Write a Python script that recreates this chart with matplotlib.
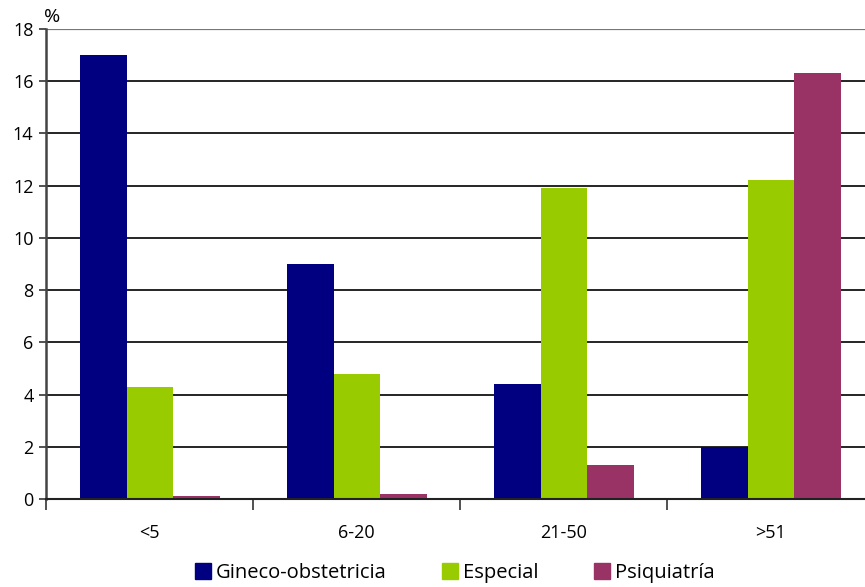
import matplotlib
matplotlib.use("Agg")
import matplotlib.pyplot as plt
import numpy as np
from matplotlib.patches import Patch

categories = ["<5", "6-20", "21-50", ">51"]
series_names = ["Gineco-obstetricia", "Especial", "Psiquiatría"]
gineco = [17.0, 9.0, 4.4, 2.0]
especial = [4.3, 4.8, 11.9, 12.2]
psiquiatria = [0.1, 0.2, 1.3, 16.3]
colors = ["#000080", "#99CC00", "#993366"]
y_ticks = [0, 2, 4, 6, 8, 10, 12, 14, 16, 18]

plt.rcParams['font.family'] = ['Open Sans', 'DejaVu Sans']

W, H = 865, 587
fig = plt.figure(figsize=(W / 100, H / 100), dpi=100)
ax = fig.add_axes([46 / W, 1 - 499 / H, 828 / W, 470 / H])

x = np.arange(len(categories))
bw = 0.225
for i, (vals, c) in enumerate(zip([gineco, especial, psiquiatria], colors)):
    ax.bar(x + (i - 1) * bw + 0.003, vals, width=bw, color=c, zorder=3)

ax.set_xlim(-0.5, 3.5)
ax.set_ylim(0, 18)
ax.set_yticks(y_ticks)
ax.set_yticklabels([str(v) for v in y_ticks], fontsize=13)
for v in y_ticks[1:]:
    ax.axhline(v, color="#777777" if v == 18 else "black", lw=1.6 if v == 18 else 1.2, zorder=1)

ax.set_xticks(np.arange(-0.5, 3.6, 1.0))
ax.set_xticklabels([])
ax.set_xticks(x, minor=True)
ax.set_xticklabels(categories, minor=True, fontsize=13)
ax.tick_params(axis='x', which='major', length=8, width=1.2, direction='out', color='#333333')
ax.tick_params(axis='x', which='minor', length=0, pad=18)
ax.tick_params(axis='y', length=5, width=1.2, color='#333333', pad=4)

for s in ["top", "right"]:
    ax.spines[s].set_visible(False)
ax.spines["left"].set_color("#444444")
ax.spines["left"].set_linewidth(1.8)
ax.spines["bottom"].set_color("#222222")
ax.spines["bottom"].set_linewidth(1.5)
ax.spines["bottom"].set_zorder(4)

fig.text(44 / W, 1 - 17 / H, "%", fontsize=14, ha="left", va="center")

handles = [Patch(facecolor=c, edgecolor=c) for c in colors]
leg = fig.legend(handles, series_names, loc="center", bbox_to_anchor=(455 / W, 1 - 573 / H),
                 ncol=3, frameon=False, fontsize=14.5, handlelength=0.8, handleheight=0.8,
                 handletextpad=0.25, columnspacing=2.75)

fig.savefig("out.png", dpi=100)
